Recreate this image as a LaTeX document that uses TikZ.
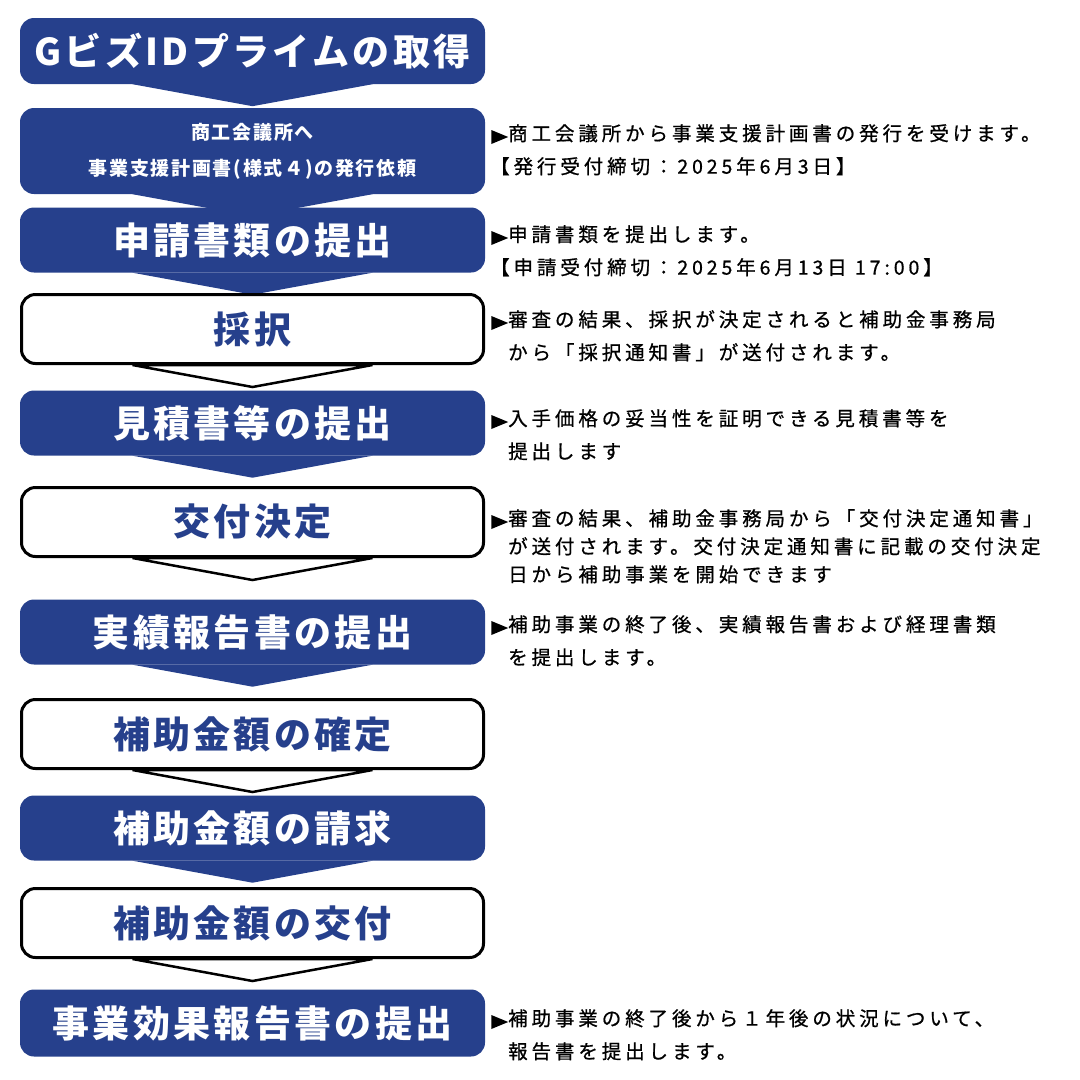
\documentclass[tikz,border=0pt]{standalone}
\usepackage{fontspec}
\setmainfont{Noto Sans CJK JP}
\newfontfamily\notefont{Noto Sans CJK JP}[LetterSpace=20,FakeBold=0.8]
\newfontfamily\headfont{Noto Sans CJK JP}[LetterSpace=9]
\usetikzlibrary{positioning,backgrounds,shapes.geometric}
\definecolor{navy}{RGB}{38,64,140}
\tikzset{
  stepfill/.style={fill=navy,text=white,rounded corners=14pt,minimum width=465pt,
    font=\headfont\bfseries\fontsize{37}{40}\selectfont,inner sep=0pt},
  stepline/.style={draw=black,line width=3pt,fill=white,text=navy,rounded corners=14pt,
    minimum width=462pt,font=\headfont\bfseries\fontsize{37}{40}\selectfont,inner sep=0pt},
  chevfill/.style={fill=navy},
  chevline/.style={fill=white,draw=black,line width=2.5pt},
  note/.style={anchor=north west,align=left,inner sep=0pt,font=\notefont\fontsize{19.5}{33}\selectfont},
  tip/.style={isosceles triangle,fill=black,minimum height=13pt,minimum width=14pt,inner sep=0pt}
}
\begin{document}
\begin{tikzpicture}[x=1pt,y=-1pt]
\useasboundingbox (0,0) rectangle (1080,1080);

% Steps
\node[stepfill,minimum height=66pt] (b1) at (252.5,51) {GビズIDプライムの取得};
\node[stepfill,minimum height=86pt,font=\headfont\bfseries\fontsize{19}{36}\selectfont,align=center] (b2) at (252.5,151)
  {商工会議所へ\\事業支援計画書(様式４)の発行依頼};
\node[stepfill,minimum height=65pt] (b3) at (252.5,240) {申請書類の提出};
\node[stepline,minimum height=69pt] (b4) at (252.5,329) {採択};
\node[stepfill,minimum height=65pt] (b5) at (252.5,423) {見積書等の提出};
\node[stepline,minimum height=69pt] (b6) at (252.5,522) {交付決定};
\node[stepfill,minimum height=65pt] (b7) at (252.5,632) {実績報告書の提出};
\node[stepline,minimum height=69pt] (b8) at (252.5,734) {補助金額の確定};
\node[stepfill,minimum height=65pt] (b9) at (252.5,828) {補助金額の請求};
\node[stepline,minimum height=69pt] (b10) at (252.5,923) {補助金額の交付};
\node[stepfill,minimum height=67pt] (b11) at (252.5,1023) {事業効果報告書の提出};

% Chevrons
\begin{scope}[on background layer]
  \foreach \b/\s in {b1/chevfill,b2/chevfill,b3/chevfill,b5/chevfill,b7/chevfill,b9/chevfill,
                     b4/chevline,b6/chevline,b8/chevline,b10/chevline}
    \path[\s] ([xshift=-120pt]\b.south) -- ([yshift=-22pt]\b.south) -- ([xshift=120pt]\b.south) -- cycle;
\end{scope}

% Notes
\node[tip] (t2) at (496,137) {};
\node[note] (n2) at (490,124) {\hspace{18pt}商工会議所から事業支援計画書の発行を受けます。\\【発行受付締切：2025年6月3日】};
\node[tip] (t3) at (496,238) {};
\node[note] (n3) at (490,225) {\hspace{18pt}申請書類を提出します。\\【申請受付締切：2025年6月13日 17:00】};
\node[tip] (t4) at (496,323) {};
\node[note] (n4) at (508,310) {審査の結果、採択が決定されると補助金事務局\\から「採択通知書」が送付されます。};
\node[tip] (t5) at (496,422) {};
\node[note] (n5) at (508,409) {入手価格の妥当性を証明できる見積書等を\\提出します};
\node[tip] (t6) at (496,522) {};
\node[note,font=\notefont\fontsize{19.5}{28}\selectfont] (n6) at (508,509) {審査の結果、補助金事務局から「交付決定通知書」\\が送付されます。交付決定通知書に記載の交付決定\\日から補助事業を開始できます};
\node[tip] (t7) at (496,628) {};
\node[note] (n7) at (508,615) {補助事業の終了後、実績報告書および経理書類\\を提出します。};
\node[tip] (t11) at (496,1022) {};
\node[note] (n11) at (508,1009) {補助事業の終了後から１年後の状況について、\\報告書を提出します。};
\end{tikzpicture}
\end{document}
